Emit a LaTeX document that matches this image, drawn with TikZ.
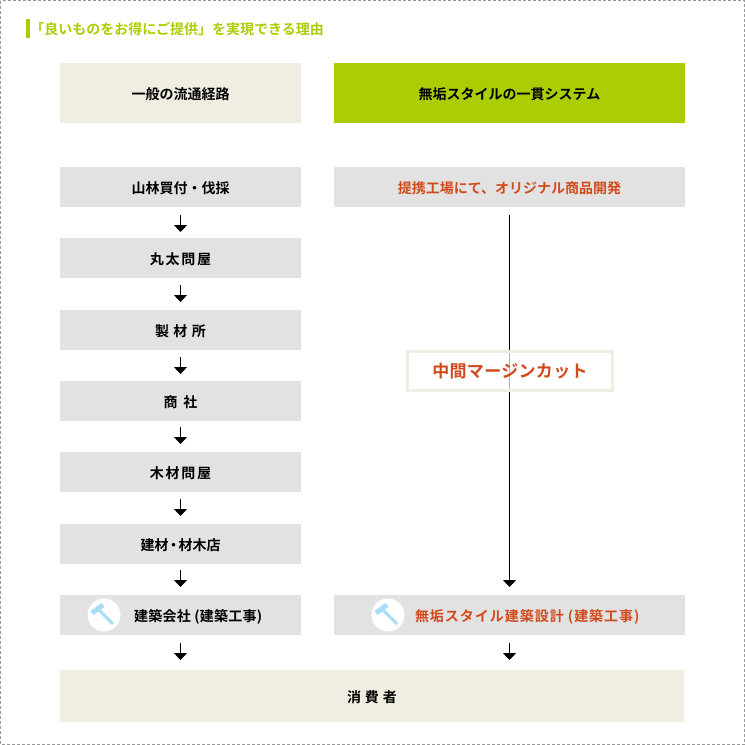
\documentclass[tikz,border=0pt]{standalone}
\usepackage{fontspec}
\newfontfamily\cjk{Noto Sans CJK JP Bold}
\usetikzlibrary{arrows.meta}
\definecolor{lime}{HTML}{ABCD03}
\definecolor{cream}{HTML}{F0EEE2}
\definecolor{stepgray}{HTML}{E2E2E2}
\definecolor{rust}{HTML}{D24A1C}
\definecolor{frame}{HTML}{999999}
\definecolor{hammer}{HTML}{A9DCFA}
\tikzset{
 x=1pt,y=-1pt,
 every node/.style={font=\cjk\fontsize{14}{16}\selectfont,inner sep=0pt,outer sep=0pt,text=black,text height=14.6pt,text depth=2pt},
 box/.style={rectangle,minimum height=40pt},
 leftbox/.style={box,fill=stepgray,minimum width=241pt},
 rightbox/.style={box,fill=stepgray,minimum width=351pt},
 header/.style={rectangle,minimum height=60pt},
 orange/.style={text=rust},
 spaced/.style={font=\cjk\fontsize{14}{16}\selectfont\addfontfeature{LetterSpace=#1}},
 flow/.style 2 args={draw=black,line width=1pt,-{Triangle[width=13pt,length=7pt]},shorten <=#1pt,shorten >=#2pt},
 iconbg/.style={circle,fill=white,minimum size=33pt},
 hammerhead/.style={draw=hammer,line width=5pt},
 hammerhandle/.style={draw=hammer,line width=3pt},
 pics/hammericon/.style={code={
   \draw[hammerhandle] (-6,-6) -- (9,9);
   \draw[hammerhead] (-12,-2) -- (-1,-10);
 }},
}
\begin{document}
\begin{tikzpicture}
\useasboundingbox (0,0) rectangle (745,745);
\draw[frame,line width=1pt,dash pattern=on 3pt off 2pt] (0.5,0.5) rectangle (744.5,744);
\fill[lime] (26,19) rectangle (30,38);
\node[anchor=west,text=lime] (title) at (30.5,28.5) {「良いものをお得にご提供」を実現できる理由};
\node[header,fill=cream,minimum width=241pt] (h1) at (180.5,93) {一般の流通経路};
\node[header,fill=lime,minimum width=351pt] (h2) at (509.5,93) {無垢スタイルの一貫システム};
\node[leftbox] (a1) at (180.5,187) {山林買付・伐採};
\node[leftbox,spaced=12] (a2) at (180.5,258) {丸太問屋};
\node[leftbox,spaced=8] (a3) at (180.5,330) {製 材 所};
\node[leftbox,spaced=18] (a4) at (180.5,401) {商 社};
\node[leftbox,spaced=12] (a5) at (180.5,472) {木材問屋};
\node[leftbox] (a6) at (180.5,544) {建材\kern-2pt・\kern-2pt材木店};
\node[leftbox] (a7) at (180.5,615) {};
\node[anchor=west,spaced=2] (a7t) at (134,615) {建築会社 (建築工事)};
\node[rightbox,orange] (b1) at (509.5,187) {提携工場にて、オリジナル商品開発};
\node[rightbox] (b2) at (509.5,615) {};
\node[anchor=west,orange,spaced=7] (b2t) at (415,615) {無垢スタイル建築設計 (建築工事)};
\node[rectangle,fill=cream,minimum width=624pt,minimum height=52pt,spaced=5] (c) at (372,696) {消 費 者};
\node[iconbg] (i1) at (104,615) {};
\pic at (i1) {hammericon};
\node[iconbg] (i2) at (388,615) {};
\pic at (i2) {hammericon};
\draw[flow={8}{6}] (a1) -- (a2);
\draw[flow={7}{8}] (a2) -- (a3);
\draw[flow={7}{7}] (a3) -- (a4);
\draw[flow={6}{8}] (a4) -- (a5);
\draw[flow={7}{8}] (a5) -- (a6);
\draw[flow={6}{8}] (a6) -- (a7);
\draw[flow={8}{10}] (a7.south) -- (a7.south |- c.north);
\draw[flow={8}{10}] (b2.south) -- (b2.south |- c.north);
\draw[flow={8}{8}] (b1.south) -- (b2.north);
\node[rectangle,draw=cream,line width=3pt,fill=white,fill opacity=0.7,text opacity=1,minimum width=205pt,minimum height=39pt,text=rust,font=\cjk\fontsize{17}{20}\selectfont\addfontfeature{LetterSpace=2}] (m) at (510,371) {中間マージンカット};
\end{tikzpicture}
\end{document}
